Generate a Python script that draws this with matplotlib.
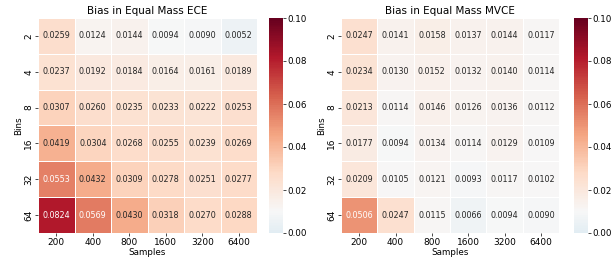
import numpy as np
import matplotlib
matplotlib.use("Agg")
import matplotlib.pyplot as plt
import seaborn as sns

samples = ["200", "400", "800", "1600", "3200", "6400"]
bins = ["2", "4", "8", "16", "32", "64"]

ece = [
    [0.0259, 0.0124, 0.0144, 0.0094, 0.0090, 0.0052],
    [0.0237, 0.0192, 0.0184, 0.0164, 0.0161, 0.0189],
    [0.0307, 0.0260, 0.0235, 0.0233, 0.0222, 0.0253],
    [0.0419, 0.0304, 0.0268, 0.0255, 0.0239, 0.0269],
    [0.0553, 0.0432, 0.0309, 0.0278, 0.0251, 0.0277],
    [0.0824, 0.0569, 0.0430, 0.0318, 0.0270, 0.0288],
]
mvce = [
    [0.0247, 0.0141, 0.0158, 0.0137, 0.0144, 0.0117],
    [0.0234, 0.0130, 0.0152, 0.0132, 0.0140, 0.0114],
    [0.0213, 0.0114, 0.0146, 0.0126, 0.0136, 0.0112],
    [0.0177, 0.0094, 0.0134, 0.0114, 0.0129, 0.0109],
    [0.0209, 0.0105, 0.0121, 0.0093, 0.0117, 0.0102],
    [0.0506, 0.0247, 0.0115, 0.0066, 0.0094, 0.0090],
]
titles = ["Bias in Equal Mass ECE", "Bias in Equal Mass MVCE"]

W, H = 616, 261
fig = plt.figure(figsize=(W / 100, H / 100), dpi=100)

def ax_px(x0, y0, x1, y1):
    return fig.add_axes([x0 / W, 1 - y1 / H, (x1 - x0) / W, (y1 - y0) / H])

layouts = [
    ((38, 18, 257, 233), (269, 18, 283, 233)),
    ((341, 18, 559, 233), (574, 18, 588, 233)),
]

for data, title, (hpos, cpos) in zip([ece, mvce], titles, layouts):
    ax = ax_px(*hpos)
    cax = ax_px(*cpos)
    sns.heatmap(np.array(data), ax=ax, cbar_ax=cax, cmap="RdBu_r",
                vmin=0.0, vmax=0.1, center=0.01, annot=True, fmt=".4f",
                annot_kws={"fontsize": 5.8}, linewidths=0.7, linecolor="white",
                xticklabels=samples, yticklabels=bins)
    ax.set_title(title, fontsize=7.5, pad=3)
    ax.set_xlabel("Samples", fontsize=6.3, labelpad=1)
    ax.set_ylabel("Bins", fontsize=6.3, labelpad=1)
    ax.tick_params(axis="both", labelsize=6.5, length=2, width=0.5, pad=1.5)
    cax.tick_params(labelsize=6.3, length=2, width=0.5, pad=1.5)
    cax.set_yticks([0.0, 0.02, 0.04, 0.06, 0.08, 0.10])
    cax.set_yticklabels(["0.00", "0.02", "0.04", "0.06", "0.08", "0.10"])
    for s in cax.spines.values():
        s.set_visible(False)

fig.savefig("out.png", dpi=100)
